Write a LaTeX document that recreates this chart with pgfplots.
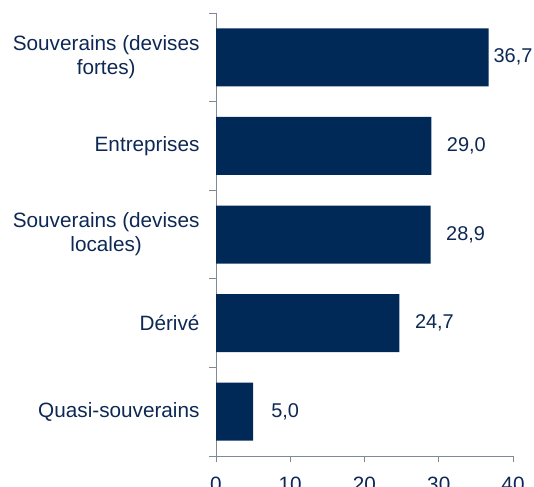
\documentclass[border=0pt]{standalone}
\usepackage{pgfplots}
\pgfplotsset{compat=1.18}
\usepackage{pgfplotstable}
\usepackage{fontspec}
\setmainfont{Liberation Sans}
\definecolor{barnavy}{RGB}{0,41,87}
\definecolor{txtnavy}{RGB}{13,40,84}
\definecolor{axgray}{RGB}{128,138,150}
\pgfplotstableread{
y x s
0 36.7 24.5
1 29.0 35
2 28.9 35
3 24.7 35
4 5.0 32
}\datatable
\begin{document}
\begin{tikzpicture}
\begin{axis}[
  scale only axis, width=297bp, height=443bp,
  xmin=0, xmax=40, ymin=-0.5, ymax=4.5, y dir=reverse,
  xbar, bar width=58bp,
  axis x line*=bottom, axis y line*=left,
  axis line style={axgray, line width=0.8bp},
  xtick={0,10,...,40},
  ytick={0,...,4},
  yticklabels={{Souverains (devises\\fortes)},Entreprises,{Souverains (devises\\locales)},Dérivé,Quasi-souverains},
  minor ytick={-0.5,0.5,...,4.5},
  tick align=outside, major tick length=6bp, minor tick length=7bp,
  major y tick style={draw=none},
  minor y tick style={axgray, line width=0.8bp},
  major x tick style={axgray, line width=0.8bp},
  /pgf/number format/assume math mode=true,
  ticklabel style={font=\fontsize{20.8}{24}\selectfont, text=txtnavy},
  yticklabel style={align=center, xshift=-7bp},
  xticklabel style={yshift=-11bp},
  point meta=x,
  nodes near coords={\pgfmathprintnumber[fixed,fixed zerofill,precision=1,use comma]{\pgfplotspointmeta}},
  visualization depends on={\thisrow{s} \as \myshift},
  every node near coord/.append style={anchor=center, xshift=\myshift bp, font=\fontsize{20}{23}\selectfont, text=txtnavy},
]
\addplot[fill=barnavy, draw=none] table[x=x, y=y] {\datatable};
\end{axis}
\pgfresetboundingbox
\path[use as bounding box] ([xshift=-216bp,yshift=-30bp]current axis.south west) rectangle ([xshift=21bp,yshift=13bp]current axis.north east);
\end{tikzpicture}
\end{document}
